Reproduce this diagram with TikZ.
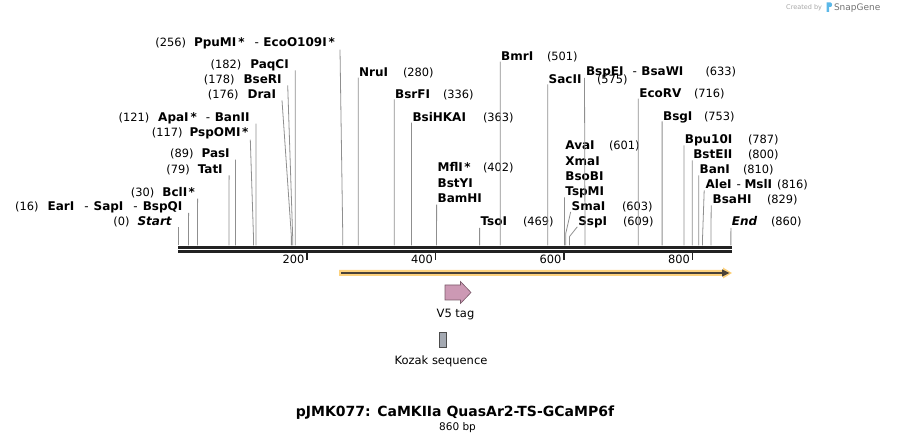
\documentclass[tikz,border=0pt]{standalone}
\usepackage{fontspec}
\setmainfont{DejaVu Sans}
\usetikzlibrary{calc}
\definecolor{cutgray}{HTML}{8F8F8F}
\definecolor{axisblack}{HTML}{222222}
\definecolor{featfill}{HTML}{FDD27E}
\definecolor{featline}{HTML}{4A4238}
\definecolor{vfill}{HTML}{CC99B4}
\definecolor{vdraw}{HTML}{7A5A6A}
\definecolor{kfill}{HTML}{A4A9B2}
\definecolor{kdraw}{HTML}{4C4C4C}
\definecolor{sglogo}{HTML}{5CB8E8}
\newcommand{\dsh}{\textmd{-}}
\begin{document}
\begin{tikzpicture}[x=1pt,y=-1pt,
  every node/.style={inner sep=0pt,outer sep=0pt},
  enz/.style={font=\fontsize{12}{13}\selectfont\bfseries},
  num/.style={font=\fontsize{11.4}{13}\selectfont},
  cutl/.style={draw=cutgray,line width=0.8pt},
  axisl/.style={draw=axisblack,line width=2.8pt},
  tickl/.style={draw=axisblack,line width=1.4pt},
  lname/.style={enz,anchor=base east},
  rname/.style={enz,anchor=base west},
  lnum/.style={num,anchor=base east},
  rnum/.style={num,anchor=base west}]
\useasboundingbox (0,0) rectangle (910,443);

% cut coordinates on the sequence
\foreach \p in {0,16,30,79,89,117,121,176,178,182,256,280,336,363,402,469,501,575,601,603,609,633,716,753,787,800,810,816,829,860}
  {\coordinate (c\p) at ({178.3+\p*0.6425},245.5);}

% ---- left labels ----
\node[lname] (ppumi) at (335,46.7) {PpuMI\hspace{2pt}*\hspace{10pt}\dsh\hspace{4.5pt}EcoO109I\hspace{2pt}*};
\node[lnum] (n256) at ($(ppumi.base west)+(-8,0)$) {(256)};
\node[lname] (paqci) at (288.7,68.3) {PaqCI};
\node[lnum] (n182) at ($(paqci.base west)+(-9,0)$) {(182)};
\node[lname] (bseri) at (281.7,83.3) {BseRI};
\node[lnum] (n178) at ($(bseri.base west)+(-9,0)$) {(178)};
\node[lname] (drai) at (276,98.3) {DraI};
\node[lnum] (n176) at ($(drai.base west)+(-9,0)$) {(176)};
\node[lname] (apai) at (249.5,121.7) {ApaI\hspace{2pt}*\hspace{9pt}\dsh\hspace{4.5pt}BanII};
\node[lnum] (n121) at ($(apai.base west)+(-9,0)$) {(121)};
\node[lname] (pspomi) at (248.3,136.7) {PspOMI\hspace{1.5pt}*};
\node[lnum] (n117) at ($(pspomi.base west)+(-7,0)$) {(117)};
\node[lname] (pasi) at (229.7,157.7) {PasI};
\node[lnum] (n89) at ($(pasi.base west)+(-8,0)$) {(89)};
\node[lname] (tati) at (222.7,173.3) {TatI};
\node[lnum] (n79) at ($(tati.base west)+(-8,0)$) {(79)};
\node[lname] (bcli) at (195,196.7) {BclI\hspace{1.5pt}*};
\node[lnum] (n30) at ($(bcli.base west)+(-8,0)$) {(30)};
\node[lname] (eari) at (182.3,211) {EarI\hspace{10pt}\dsh\hspace{5pt}SapI\hspace{10pt}\dsh\hspace{5pt}BspQI};
\node[lnum] (n16) at ($(eari.base west)+(-9,0)$) {(16)};
\node[lname] (start) at (171.7,225.3) {\itshape Start};
\node[lnum] (n0) at ($(start.base west)+(-8,0)$) {(0)};

% ---- right labels ----
\node[rname] (nrui) at (359.2,76.7) {NruI};
\node[rnum] (n280) at (403,76.7) {(280)};
\node[rname] (bsrfi) at (395.2,98.3) {BsrFI};
\node[rnum] (n336) at (443,98.3) {(336)};
\node[rname] (bsihkai) at (412.5,121.7) {BsiHKAI};
\node[rnum] (n363) at (483,121.7) {(363)};
\node[rname] (bmri) at (501.2,60.7) {BmrI};
\node[rnum] (n501) at (547,60.7) {(501)};
\node[rname] (sacii) at (548.7,83.3) {SacII};
\node[rnum] (n575) at (597,83.3) {(575)};
\node[rname] (bspei) at (586,75.5) {BspEI\hspace{9pt}\dsh\hspace{4.5pt}BsaWI};
\node[rnum] (n633) at (705.5,75.5) {(633)};
\node[rname] (ecorv) at (639.3,97.7) {EcoRV};
\node[rnum] (n716) at (694,97.7) {(716)};
\node[rname] (bsgi) at (663.1,120.5) {BsgI};
\node[rnum] (n753) at (704,120.5) {(753)};
\node[rname] (avai) at (565.4,150) {AvaI};
\node[rnum] (n601) at (609,150) {(601)};
\node[rname] (xmai) at (565.4,165.3) {XmaI};
\node[rname] (bsobi) at (565.4,180.3) {BsoBI};
\node[rname] (tspmi) at (565.4,195.3) {TspMI};
\node[rname] (smai) at (571.7,210.3) {SmaI};
\node[rnum] (n603) at (622,210.3) {(603)};
\node[rname] (sspi) at (578.3,225.3) {SspI};
\node[rnum] (n609) at (623,225.3) {(609)};
\node[rname] (mfli) at (437.6,172) {MflI\hspace{1.5pt}*};
\node[rnum] (n402) at (483,172) {(402)};
\node[rname] (bstyi) at (437.6,187.3) {BstYI};
\node[rname] (bamhi) at (437.6,202.7) {BamHI};
\node[rname] (tsoi) at (480.6,226) {TsoI};
\node[rnum] (n469) at (523,226) {(469)};
\node[rname] (bpu) at (684.9,143.3) {Bpu10I};
\node[rnum] (n787) at (748,143.3) {(787)};
\node[rname] (bsteii) at (693.3,158.3) {BstEII};
\node[rnum] (n800) at (748,158.3) {(800)};
\node[rname] (bani) at (699.7,173.3) {BanI};
\node[rnum] (n810) at (743,173.3) {(810)};
\node[rname] (alei) at (705.7,188.3) {AleI\hspace{5pt}\dsh\hspace{3.5pt}MslI};
\node[rnum] (n816) at ($(alei.base east)+(5,0)$) {(816)};
\node[rname] (bsahi) at (712.7,203.3) {BsaHI};
\node[rnum] (n829) at (767,203.3) {(829)};
\node[rname] (endl) at (731.9,226) {\itshape End};
\node[rnum] (n860) at (771,226) {(860)};

% ---- cut connectors ----
\draw[cutl] ($(ppumi.base east)+(5,3)$) -- ($(c256)+(0,-9)$) -- (c256);
\draw[cutl] ($(paqci.base east)+(6.5,2)$) -- ($(c182)+(0,-9)$) -- (c182);
\draw[cutl] ($(bseri.base east)+(6,2)$) -- ($(c178)+(0,-9)$) -- (c178);
\draw[cutl] ($(drai.base east)+(6,2)$) -- ($(c176)+(0,-9)$) -- (c176);
\draw[cutl] ($(apai.base east)+(6.5,2)$) -- ($(c121)+(0,-9)$) -- (c121);
\draw[cutl] ($(pspomi.base east)+(2,3)$) -- ($(c117)+(0,-9)$) -- (c117);
\draw[cutl] ($(pasi.base east)+(5.8,2)$) -- ($(c89)+(0,-9)$) -- (c89);
\draw[cutl] ($(tati.base east)+(6.4,2)$) -- ($(c79)+(0,-9)$) -- (c79);
\draw[cutl] ($(bcli.base east)+(2.6,2)$) -- ($(c30)+(0,-9)$) -- (c30);
\draw[cutl] ($(eari.base east)+(6.3,2)$) -- ($(c16)+(0,-9)$) -- (c16);
\draw[cutl] ($(start.base east)+(6.6,2)$) -- (c0);
\draw[cutl] ($(nrui.base west)+(-1,1)$) -- (c280);
\draw[cutl] ($(bsrfi.base west)+(-1,1)$) -- (c336);
\draw[cutl] ($(bsihkai.base west)+(-1,1)$) -- (c363);
\draw[cutl] ($(bmri.base west)+(-1,1)$) -- (c501);
\draw[cutl] ($(sacii.base west)+(-1,1)$) -- (c575);
\draw[cutl] ($(bspei.base west)+(-1.5,2.5)$) -- ($(c633)+(0,-9)$) -- (c633);
\draw[cutl] ($(ecorv.base west)+(-1,1)$) -- (c716);
\draw[cutl] ($(bsgi.base west)+(-1,1)$) -- (c753);
\draw[cutl] ($(tspmi.base west)+(-1,2)$) -- ($(c601)+(0,-9)$) -- (c601);
\draw[cutl] ($(smai.base west)+(-1,1.5)$) -- ($(c603)+(0,-12)$) -- (c603);
\draw[cutl] ($(sspi.base west)+(-1,1.5)$) -- ($(c609)+(0,-9)$) -- (c609);
\draw[cutl] ($(bamhi.base west)+(-1,2)$) -- (c402);
\draw[cutl] ($(tsoi.base west)+(-1,2)$) -- (c469);
\draw[cutl] ($(bpu.base west)+(-1,2)$) -- (c787);
\draw[cutl] ($(bsteii.base west)+(-1,2)$) -- (c800);
\draw[cutl] ($(bani.base west)+(-1,2)$) -- (c810);
\draw[cutl] ($(alei.base west)+(-1.5,2)$) -- ($(c816)+(0,-9)$) -- (c816);
\draw[cutl] ($(bsahi.base west)+(-1.5,2)$) -- ($(c829)+(0,-9)$) -- (c829);
\draw[cutl] ($(endl.base west)+(-1,2)$) -- (c860);

% ---- sequence axis ----
\coordinate (axL) at (178,247.5);
\coordinate (axR) at (731.7,247.5);
\draw[axisl] (axL) -- (axR);
\draw[axisl] ($(axL)+(0,3.9)$) -- ($(axR)+(0,3.9)$);
\foreach \t in {200,400,600,800}{
  \coordinate (t\t) at ({178.3+\t*0.6425},252);
  \draw[tickl] (t\t) -- ++(0,8);
  \node[num,anchor=base east] (tl\t) at ($(t\t)+(-2.5,11.3)$) {\t};
}

% ---- feature arrow ----
\fill[featfill] (339,270) -- (723,270) -- (723,267.5) -- (732,273) -- (723,278.5) -- (723,276) -- (339,276) -- cycle;
\coordinate (fs) at (341,273);
\coordinate (fe) at (724,273);
\draw[featline,line width=2.2pt] (fs) -- (fe);
\fill[featline] (722,269.3) -- (729.5,273) -- (722,276.7) -- cycle;

% ---- V5 tag ----
\draw[vdraw,fill=vfill,line width=0.6pt] (445,285) -- (460.5,285) -- (460.5,281.5) -- (471,292.5) -- (460.5,303.5) -- (460.5,300) -- (445,300) -- cycle;
\node[font=\fontsize{11.5}{13}\selectfont] (v5) at (455.5,314.5) {V5 tag};

% ---- Kozak ----
\draw[kdraw,fill=kfill,line width=0.6pt] (439.5,332.5) rectangle (446.5,347.5);
\node[font=\fontsize{11.5}{13}\selectfont] (kozak) at (441,361.3) {Kozak sequence};

% ---- title ----
\node[font=\fontsize{14}{16}\selectfont\bfseries] (title) at (455,413) {pJMK077: CaMKIIa QuasAr2-TS-GCaMP6f};
\node[font=\fontsize{10.5}{12}\selectfont] (len) at (457.5,427.5) {860 bp};

% ---- SnapGene credit ----
\node[font=\fontsize{6.5}{8}\selectfont,text=black!35,anchor=base east] (cby) at (822,10) {Created by};
\fill[sglogo] (826.5,2.5) -- (830.5,2.5) .. controls (832.5,2.5) and (832.5,7) .. (830.5,7) -- (829,7) -- (829,12) -- (826.5,12) -- cycle;
\node[font=\fontsize{9}{10}\selectfont,text=black!55,anchor=base west] (sg) at (834,11) {SnapGene};
\end{tikzpicture}
\end{document}
